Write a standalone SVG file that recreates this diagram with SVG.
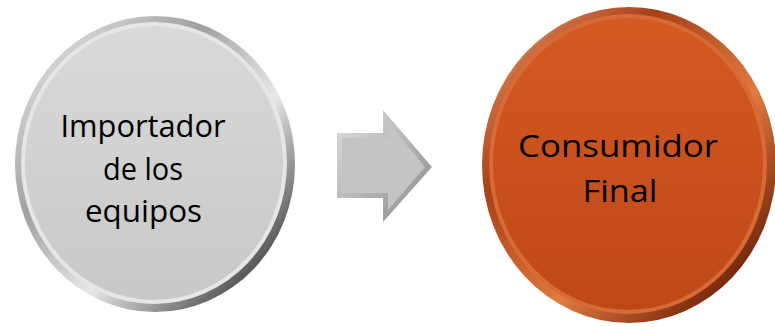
<svg xmlns="http://www.w3.org/2000/svg" width="775" height="327" viewBox="0 0 775 327">
<defs>
<linearGradient id="rimG" x1="0" y1="0" x2="1" y2="1">
<stop offset="0" stop-color="#f4f4f4"/>
<stop offset="0.35" stop-color="#a0a0a0"/>
<stop offset="0.6" stop-color="#e8e8e8"/>
<stop offset="0.85" stop-color="#5a5a5a"/>
<stop offset="1" stop-color="#d8d8d8"/>
</linearGradient>
<linearGradient id="faceG" x1="0" y1="0" x2="0" y2="1">
<stop offset="0" stop-color="#d9d9d9"/>
<stop offset="1" stop-color="#c8c8c8"/>
</linearGradient>
<linearGradient id="rimO" x1="0" y1="0" x2="1" y2="1">
<stop offset="0" stop-color="#f0a070"/>
<stop offset="0.3" stop-color="#a8401a"/>
<stop offset="0.6" stop-color="#e07a40"/>
<stop offset="0.85" stop-color="#7a2a0c"/>
<stop offset="1" stop-color="#e89060"/>
</linearGradient>
<linearGradient id="faceO" x1="0" y1="0" x2="0" y2="1">
<stop offset="0" stop-color="#d45a22"/>
<stop offset="1" stop-color="#bf4818"/>
</linearGradient>
<linearGradient id="arrG" x1="0" y1="0" x2="1" y2="1">
<stop offset="0" stop-color="#e0e0e0"/>
<stop offset="1" stop-color="#8a8a8a"/>
</linearGradient>
<style>
.t{font-family:"Open Sans","Noto Sans",sans-serif;font-size:31px;fill:#000;text-anchor:middle}
</style>
</defs>
<rect width="775" height="327" fill="#fff"/>
<g id="node-importador">
<ellipse cx="155" cy="164" rx="140" ry="148" fill="url(#rimG)"/>
<ellipse cx="154" cy="163" rx="133" ry="141" fill="#e6e6e6"/>
<ellipse cx="154" cy="163" rx="129" ry="137" fill="url(#faceG)"/>
<text class="t" x="143" y="137" textLength="165" lengthAdjust="spacingAndGlyphs">Importador</text>
<text class="t" x="143" y="179.5" textLength="80" lengthAdjust="spacingAndGlyphs">de los</text>
<text class="t" x="143.5" y="222" textLength="117" lengthAdjust="spacingAndGlyphs">equipos</text>
</g>
<g id="connectors">
<polygon points="337,133 383,133 383,110 432,167 383,222 383,198 337,198" fill="url(#arrG)"/>
<polygon points="342,138 388,138 388,122 425,167 388,210 388,193 342,193" fill="#c4c4c4"/>
</g>
<g id="node-consumidor">
<ellipse cx="629" cy="165" rx="147" ry="158" fill="url(#rimO)"/>
<ellipse cx="628" cy="164" rx="139" ry="150" fill="#d86a35"/>
<ellipse cx="628" cy="164" rx="135" ry="146" fill="url(#faceO)"/>
<text class="t" x="618" y="157" textLength="200" lengthAdjust="spacingAndGlyphs">Consumidor</text>
<text class="t" x="620" y="202" textLength="75" lengthAdjust="spacingAndGlyphs">Final</text>
</g>
</svg>
